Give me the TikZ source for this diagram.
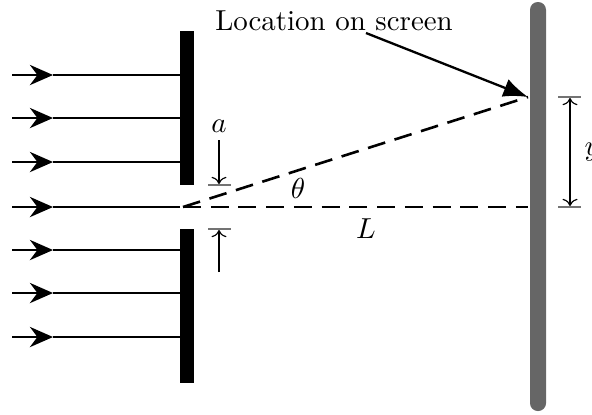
\documentclass[tikz,border=0pt]{standalone}
\usetikzlibrary{arrows.meta}

\begin{document}
\begin{tikzpicture}[x=0.346pt, y=-0.346pt,
  ray/.style={line width=0.8pt},
  dashline/.style={line width=0.9pt, dash pattern=on 6.2pt off 3.4pt},
  dimline/.style={line width=0.4pt},
  dimtick/.style={line width=0.5pt, black!55}]
  \useasboundingbox (0,0) rectangle (592,414);

  % Incoming plane waves
  \foreach \yy [count=\i] in {75,118,162,207,250,293,337} {
    \coordinate (ray\i) at (12,\yy);
    \coordinate (mid\i) at (53,\yy);
    \coordinate (end\i) at (180,\yy);
    \draw[ray, -{Stealth[length=8pt, width=7pt, inset=2.6pt]}] (ray\i) -- (mid\i);
    \draw[ray] (mid\i) -- (end\i);
  }

  % Slit and screen
  \fill (180,31) rectangle (194,185);
  \fill (180,229) rectangle (194,383);
  \fill[black!60, rounded corners=2.7pt] (530,2) rectangle (546,411);

  % Rays through the slit
  \coordinate (slit) at (183,207);
  \coordinate (spot) at (528,97);
  \coordinate (centre) at (528,207);
  \draw[dashline] (slit) -- (spot);
  \draw[dashline] (slit) -- (centre);
  \node (theta) at (298,188) {$\theta$};
  \node (Llabel) at (366,229) {$L$};

  % Slit width
  \coordinate (atop) at (219,140);
  \coordinate (atopend) at (219,184);
  \coordinate (abot) at (219,272);
  \coordinate (abotend) at (219,230);
  \draw[dimtick] (208,185) -- (231,185);
  \draw[dimtick] (208,229) -- (231,229);
  \draw[dimline, -{To}] (atop) -- (atopend);
  \draw[dimline, -{To}] (abot) -- (abotend);
  \node (alabel) at (219,126) {$a$};

  % Height on screen
  \coordinate (ytop) at (570,98);
  \coordinate (ybot) at (570,206);
  \draw[dimtick] (558,97) -- (581,97);
  \draw[dimtick] (558,207) -- (581,207);
  \draw[dimline, {To}-{To}] (ytop) -- (ybot);
  \node[anchor=west, inner sep=0pt] (ylabel) at (584,152) {$y$};

  % Pointer to the screen
  \node (loc) at (334,21) {Location on screen};
  \coordinate (locfoot) at (366,33);
  \draw[line width=0.8pt, -{Latex[length=8.5pt, width=6.5pt]}] (locfoot) -- (spot);
\end{tikzpicture}
\end{document}
